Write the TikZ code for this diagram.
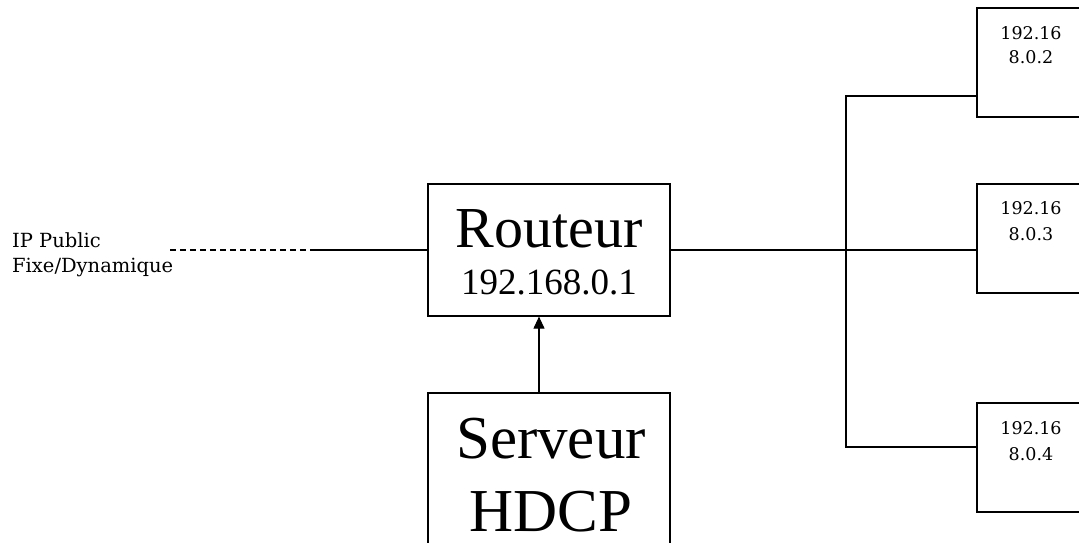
\documentclass[tikz,border=0pt]{standalone}
\usepackage{fontspec}
\setmainfont{Liberation Serif}
\newfontfamily\smallserif{DejaVu Serif}
\usetikzlibrary{arrows.meta}
\tikzset{
  box/.style={draw, line width=1.2pt, inner sep=0pt, fill=white},
  lbl/.style={inner sep=0pt, anchor=base},
  conn/.style={line width=1.1pt},
}
\begin{document}
\begin{tikzpicture}[x=1pt,y=-1pt]
\clip (0,0) rectangle (1079,542);
\fill[white] (0,0) rectangle (1079,542);
% boxes
\node[box, minimum width=242pt, minimum height=132pt] (router) at (549,250) {};
\node[box, minimum width=242pt, minimum height=190pt] (server) at (549,488) {};
\node[box, minimum width=123pt, minimum height=109pt] (h2) at (1038.5,62.5) {};
\node[box, minimum width=123pt, minimum height=109pt] (h3) at (1038.5,238.5) {};
\node[box, minimum width=123pt, minimum height=109pt] (h4) at (1038.5,457.5) {};
% texts
\node[lbl] (rt1) at (549,247) {\fontsize{58}{58}\selectfont Routeur};
\node[lbl] (rt2) at (549,294) {\fontsize{37}{37}\selectfont 192.168.0.1};
\node[lbl] (sv1) at (551,458) {\fontsize{61}{61}\selectfont Serveur};
\node[lbl] (sv2) at (551,531) {\fontsize{61}{61}\selectfont HDCP};
\node[lbl] (h2a) at (1031,39) {\smallserif\fontsize{17.5}{17.5}\selectfont 192.16};
\node[lbl] (h2b) at (1031,63) {\smallserif\fontsize{17.5}{17.5}\selectfont 8.0.2};
\node[lbl] (h3a) at (1031,214) {\smallserif\fontsize{17.5}{17.5}\selectfont 192.16};
\node[lbl] (h3b) at (1031,240) {\smallserif\fontsize{17.5}{17.5}\selectfont 8.0.3};
\node[lbl] (h4a) at (1031,434) {\smallserif\fontsize{17.5}{17.5}\selectfont 192.16};
\node[lbl] (h4b) at (1031,460) {\smallserif\fontsize{17.5}{17.5}\selectfont 8.0.4};
\node[lbl, anchor=base west] (ip1) at (12,247) {\smallserif\fontsize{19.5}{19.5}\selectfont IP Public};
\node[lbl, anchor=base west] (ip2) at (12,272) {\smallserif\fontsize{19.5}{19.5}\selectfont Fixe/Dynamique};
% connectors
\coordinate (ds) at (170,250);
\coordinate (ss) at (312,250);
\coordinate (b1) at (846,96);
\coordinate (b3) at (846,447);
\draw[conn, dash pattern=on 6pt off 4pt] (ds) -- (ss);
\draw[conn] (ss) -- (router.west);
\draw[conn] (router.east) -- (router.east -| h3.west);
\draw[conn] (b1 -| h2.west) -- (b1) -- (b3) -- (b3 -| h4.west);
\draw[conn, -{Triangle[length=12pt,width=11pt]}] ([xshift=-10pt]server.north) -- ([xshift=-10pt]router.south);
\end{tikzpicture}
\end{document}
